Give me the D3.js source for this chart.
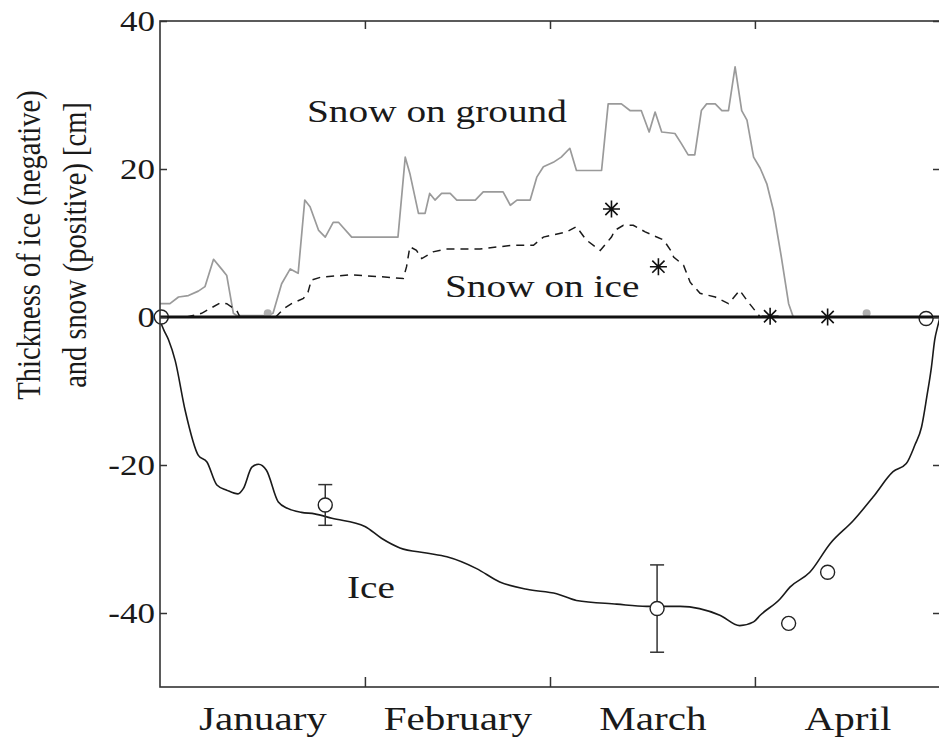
<!DOCTYPE html>
<html>
<head>
<meta charset="utf-8">
<script src="https://cdn.jsdelivr.net/npm/d3@7"></script>
<style>
  html, body { margin: 0; padding: 0; background: #fff; }
  svg { display: block; }
  text { font-family: "Liberation Serif", "Times New Roman", serif; fill: #1a1a1a; }
</style>
</head>
<body>
<svg id="chart" width="939" height="738"></svg>
<script>
// ---- Data (x = days since 1 January) ----
const groundDays = [0,1.5,2.8,4.3,5.8,6.8,8.1,9.3,10.1,11.1,11.6,16.3,17.1,18.4,19.7,20.9,21.9,22.7,24,25,26.2,27,29,36,37.1,37.8,39.1,40.1,40.8,41.6,42.6,43.9,44.9,47.7,48.9,51.9,53,54,56,57,58,59.5,60.7,62,63,66.8,67.8,69.8,71.1,72.8,74,74.9,75.9,77.9,78.9,79.9,80.9,81.9,82.7,84,85,86,87,88,88.8,89.8,90.8,91.8,92.8,94,95.1,95.8];
const groundSnow = [1.8,1.8,2.7,2.9,3.5,4.1,7.8,6.5,5.6,0.5,0.2,0.2,0.5,4.5,6.5,5.9,15.8,14.9,11.7,10.8,12.8,12.8,10.8,10.8,21.6,19.4,14.0,14.0,16.7,15.8,16.7,16.7,15.8,15.8,16.9,16.9,15.1,15.8,15.8,18.9,20.3,20.9,21.6,22.8,19.8,19.8,28.8,28.8,27.9,27.9,25.0,27.7,25.0,24.8,23.4,21.9,21.9,27.9,28.8,28.8,27.9,27.9,33.8,27.9,26.6,21.6,20.1,18.0,14.4,8.1,1.8,0];

const iceSnowDays = [4,6.3,9.1,10.1,11.6,12.1,17.5,18.7,19.9,21.7,22.4,22.9,24.4,29,34,36.8,37.3,37.8,38.8,39.6,41.3,43.3,48.4,53.4,56.5,58,61.5,63,64.5,66.6,68.3,68.8,70.1,71.6,73.4,76.2,77.4,77.7,79.2,80.2,81.7,84,86,87.7,89,90.8,110];
const iceSnow = [0,0.5,1.9,1.8,0.9,0,0,1.1,1.8,2.5,3.4,5.0,5.4,5.7,5.4,5.2,6.8,9.5,9.0,7.9,8.8,9.2,9.2,9.7,9.7,10.8,11.5,12.2,10.4,9.0,10.8,11.7,12.4,12.4,11.5,10.4,8.8,8.1,7.0,4.7,3.2,2.7,1.8,3.6,2.0,0,0];

const iceDays = [0,0.6,1.3,2.3,3.8,5.8,7.1,8.6,10.1,11.8,12.6,13.9,14.9,16.1,17.9,19.4,21.4,23.4,26,31,33.5,36.3,40.3,43.4,47.9,51.4,55.5,60,63,69.1,73.6,78.7,84.7,87.7,89.8,90.8,93.8,95.3,98.3,101.4,104.9,107.9,110.9,112.9,114.2,115.2,116,116.7,117.2,117.7,118];
const iceThickness = [-0.5,-1.8,-3.1,-5.9,-12.6,-18.7,-19.6,-22.7,-23.4,-23.9,-23.2,-20.3,-19.9,-20.7,-25.0,-25.9,-26.4,-26.6,-27.2,-28.3,-29.9,-31.2,-31.9,-32.4,-34.0,-35.8,-36.8,-37.4,-38.3,-38.8,-39.1,-39.1,-40.3,-41.7,-41.2,-40.3,-38.1,-36.5,-34.5,-30.6,-27.5,-24.3,-20.9,-19.8,-17.3,-14.9,-10.8,-6.8,-3.1,-1.1,0];

const iceObsDays = [0.2,25,75.2,95.1,101,115.9];
const iceObs = [0,-25.4,-39.4,-41.4,-34.5,-0.2];
const iceObsErr = [0,2.75,5.9,0,0,0];

const snowObsDays = [68.3,75.4,92.3,101];
const snowObs = [14.6,6.8,0.1,0];

const groundObsDays = [16.3,106.9];
const groundObs = [0.5,0.5];

const yTicks = [-40,-20,0,20,40];
const monthTicks = [31,59,90];
const monthNames = ["January","February","March","April"];
const monthMids = [15.5,45,74.5,104];

// ---- Layout ----
const SX = 1.21; // horizontal stretch of the original figure
const svg = d3.select("#chart");
const x = d3.scaleLinear().domain([0,118]).range([160,940]);
const y = d3.scaleLinear().domain([-50,40]).range([687,21]);

function stretch(sel) {
  sel.each(function() {
    const t = d3.select(this);
    const ax = +t.attr("x") || 0, ay = +t.attr("y") || 0;
    t.attr("transform", `translate(${ax},${ay}) scale(${SX},1) translate(${-ax},${-ay})`);
  });
}

// Snow on ground (gray)
svg.append("path")
  .datum(groundDays.map((d,i)=>[d,groundSnow[i]]))
  .attr("fill","none").attr("stroke","#9a9a9a").attr("stroke-width",1.7)
  .attr("stroke-linejoin","round")
  .attr("d", d3.line().x(d=>x(d[0])).y(d=>y(d[1])));

// Snow on ice (dashed)
svg.append("path")
  .datum(iceSnowDays.map((d,i)=>[d,iceSnow[i]]))
  .attr("fill","none").attr("stroke","#1a1a1a").attr("stroke-width",1.5)
  .attr("stroke-dasharray","8,6")
  .attr("d", d3.line().x(d=>x(d[0])).y(d=>y(d[1])));

// Ice thickness
svg.append("path")
  .datum(iceDays.map((d,i)=>[d,iceThickness[i]]))
  .attr("fill","none").attr("stroke","#1a1a1a").attr("stroke-width",1.6)
  .attr("d", d3.line().curve(d3.curveMonotoneX).x(d=>x(d[0])).y(d=>y(d[1])));

// Error bars
const errG = svg.append("g").attr("stroke","#333").attr("stroke-width",1.5);
iceObsDays.forEach((d,i)=>{
  const e = iceObsErr[i];
  if (!e) return;
  const cx = x(d);
  errG.append("line").attr("x1",cx).attr("x2",cx).attr("y1",y(iceObs[i]+e)).attr("y2",y(iceObs[i]-e));
  errG.append("line").attr("x1",cx-7).attr("x2",cx+7).attr("y1",y(iceObs[i]+e)).attr("y2",y(iceObs[i]+e));
  errG.append("line").attr("x1",cx-7).attr("x2",cx+7).attr("y1",y(iceObs[i]-e)).attr("y2",y(iceObs[i]-e));
});

// Ice observation circles
svg.append("g").selectAll("circle")
  .data(iceObsDays.map((d,i)=>[d,iceObs[i]]))
  .join("circle")
  .attr("cx",d=>x(d[0])).attr("cy",d=>y(d[1])).attr("r",7)
  .attr("fill","#fff").attr("stroke","#222").attr("stroke-width",1.4);

// gray ground observation marks
svg.append("g").selectAll("circle")
  .data(groundObsDays.map((d,i)=>[d,groundObs[i]]))
  .join("circle")
  .attr("cx",d=>x(d[0])).attr("cy",d=>y(d[1])).attr("r",4)
  .attr("fill","#b0b0b0");

// Zero line
svg.append("line")
  .attr("x1",x(0)).attr("x2",x(118)).attr("y1",y(0)).attr("y2",y(0))
  .attr("stroke","#111").attr("stroke-width",3);

// Asterisks
const astG = svg.append("g").attr("stroke","#111").attr("stroke-width",1.6);
snowObsDays.forEach((d,i)=>{
  const cx = x(d), cy = y(snowObs[i]), r = 8.5, q = r*0.72;
  astG.append("path").attr("d",
    `M${cx-r},${cy}L${cx+r},${cy}M${cx},${cy-r}L${cx},${cy+r}` +
    `M${cx-q},${cy-q}L${cx+q},${cy+q}M${cx-q},${cy+q}L${cx+q},${cy-q}`);
});

// Frame
svg.append("rect").attr("x",160).attr("y",21).attr("width",780).attr("height",666)
  .attr("fill","none").attr("stroke","#333").attr("stroke-width",1.6);

// Axes
const leftAxis = svg.append("g").attr("transform","translate(160,0)")
  .call(d3.axisLeft(y).tickValues(yTicks).tickSize(-7).tickPadding(5).tickFormat(d=>String(d)));
const rightAxis = svg.append("g").attr("transform","translate(939,0)")
  .call(d3.axisRight(y).tickValues(yTicks).tickSize(-6).tickFormat(""));
const topAxis = svg.append("g").attr("transform","translate(0,21)")
  .call(d3.axisTop(x).tickValues(monthTicks).tickSize(-8).tickFormat(""));
const botAxis = svg.append("g").attr("transform","translate(0,687)")
  .call(d3.axisBottom(x).tickValues(monthTicks).tickSize(-10).tickFormat(""));
const monthAxis = svg.append("g").attr("transform","translate(0,687)")
  .call(d3.axisBottom(x).tickValues(monthMids).tickSize(0).tickPadding(19).tickFormat((d,i)=>monthNames[i]));

[leftAxis,rightAxis,topAxis,botAxis,monthAxis].forEach(g=>{
  g.select(".domain").remove();
  g.selectAll(".tick line").attr("stroke","#333").attr("stroke-width",1.5);
});
leftAxis.selectAll("text").attr("font-size",29).attr("font-family","Liberation Serif").attr("fill","#1a1a1a").call(stretch);
monthAxis.selectAll("text").attr("font-size",34).attr("font-family","Liberation Serif").attr("fill","#1a1a1a").attr("dy","0.71em").call(stretch);

// Series labels
const labels = [
  {t:"Snow on ground", x:307, y:122},
  {t:"Snow on ice", x:445, y:297},
  {t:"Ice", x:347, y:598}
];
svg.append("g").selectAll("text").data(labels).join("text")
  .attr("x",d=>d.x).attr("y",d=>d.y).attr("font-size",32.5)
  .text(d=>d.t).call(stretch);

// Y-axis title (two lines)
const yTitle = ["Thickness of ice (negative)","and snow (positive) [cm]"];
const yTitleX = [40, 86];
yTitle.forEach((t,i)=>{
  svg.append("text")
    .attr("transform",`translate(${yTitleX[i]},245) scale(${SX},1) rotate(-90)`)
    .attr("text-anchor","middle").attr("font-size",28.5).text(t);
});
</script>
</body>
</html>
